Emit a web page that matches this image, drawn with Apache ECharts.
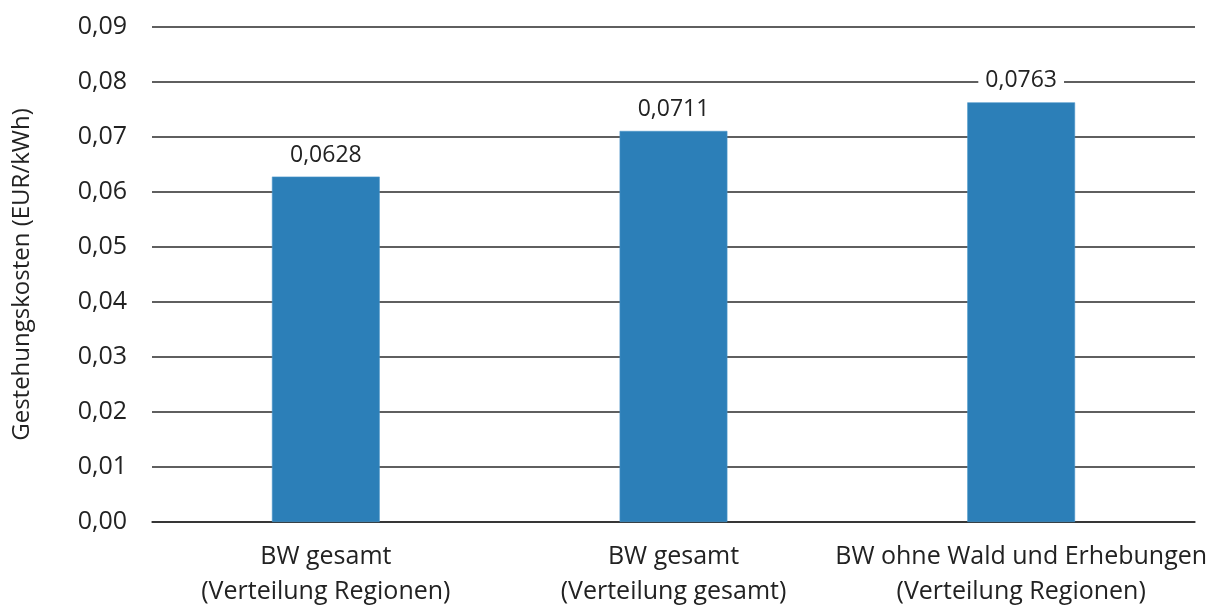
<!DOCTYPE html>
<html>
<head>
<meta charset="utf-8">
<script src="https://cdn.jsdelivr.net/npm/echarts@6/dist/echarts.min.js"></script>
<style>
html, body { margin: 0; padding: 0; background: #fff; }
#chart { width: 1215px; height: 609px; }
</style>
</head>
<body>
<div id="chart"></div>
<script>
// Levelized cost per scenario
const categories = [
  'BW gesamt\n(Verteilung Regionen)',
  'BW gesamt\n(Verteilung gesamt)',
  'BW ohne Wald und Erhebungen\n(Verteilung Regionen)'
];
const costs = [0.0628, 0.0711, 0.0763];
const yAxisTitle = 'Gestehungskosten (EUR/kWh)';

const fmt = (v, d) => v.toFixed(d).replace('.', ',');
const font = '"Open Sans", "Noto Sans", sans-serif';

const chart = echarts.init(document.getElementById('chart'), null, { renderer: 'canvas' });
chart.setOption({
  animation: false,
  backgroundColor: '#ffffff',
  grid: { left: 152, right: 20, top: 27, bottom: 87 },
  xAxis: {
    type: 'category',
    data: categories,
    axisLine: { show: true, lineStyle: { color: '#2a2a2a', width: 1.5 } },
    axisTick: { show: false },
    axisLabel: {
      color: '#222',
      fontFamily: font,
      fontSize: 25,
      lineHeight: 35,
      margin: 17,
      interval: 0
    }
  },
  yAxis: {
    type: 'value',
    min: 0,
    max: 0.09,
    interval: 0.01,
    name: yAxisTitle,
    nameLocation: 'middle',
    nameGap: 118,
    nameTextStyle: { color: '#222', fontFamily: font, fontSize: 24 },
    axisLine: { show: false },
    axisTick: { show: false },
    axisLabel: {
      color: '#222',
      fontFamily: font,
      fontSize: 25,
      margin: 25,
      formatter: v => fmt(v, 2)
    },
    splitLine: { lineStyle: { color: '#2a2a2a', width: 1.5 } }
  },
  series: [{
    type: 'bar',
    data: costs,
    barWidth: '31%',
    itemStyle: { color: '#2c7fb8', borderColor: '#4a95c9', borderWidth: 0.6 },
    label: {
      show: true,
      position: 'top',
      distance: 8,
      color: '#222',
      fontFamily: font,
      fontSize: 23,
      backgroundColor: '#ffffff',
      padding: [2, 7],
      formatter: p => fmt(p.value, 4)
    }
  }]
});
</script>
</body>
</html>
